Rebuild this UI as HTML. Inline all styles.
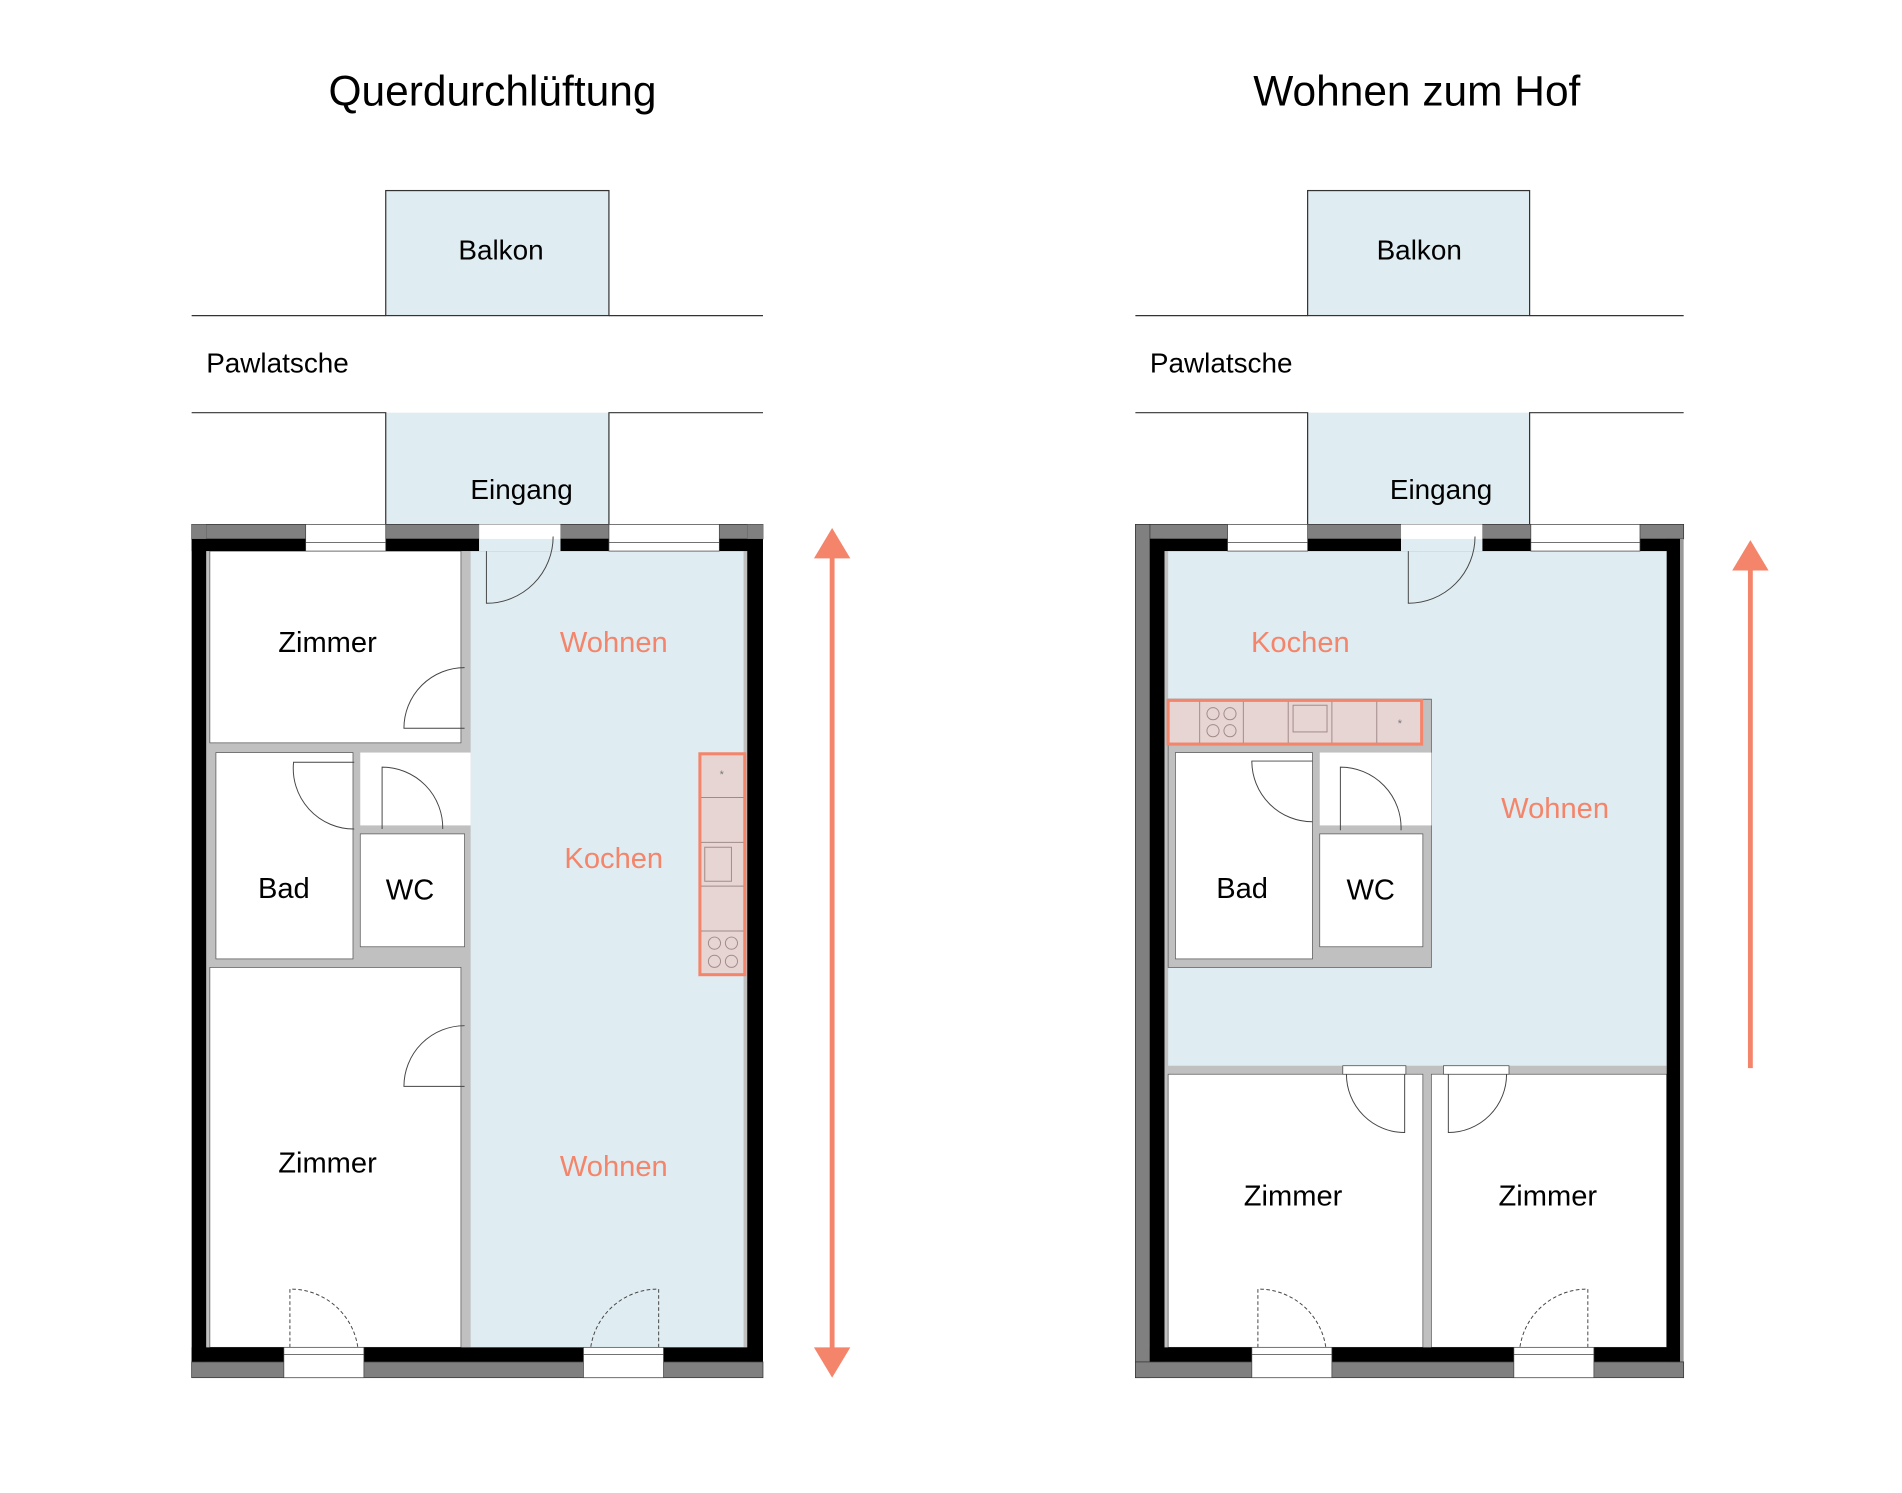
<!DOCTYPE html>
<html><head><meta charset="utf-8"><style>html,body{margin:0;padding:0;background:#fff}svg{display:block}</style></head>
<body>
<svg width="1902" height="1493" viewBox="0 0 1568 1230" preserveAspectRatio="none" xmlns="http://www.w3.org/2000/svg" font-family="Liberation Sans, sans-serif">
<rect width="1568" height="1230" fill="#fff"/>
<text x="406" y="87" font-size="35" text-anchor="middle" fill="#000">Querdurchlüftung</text>
<text x="1168" y="87" font-size="35" text-anchor="middle" fill="#000">Wohnen zum Hof</text>

<g>
<rect x="318" y="157" width="184" height="103" fill="#dfecf1" stroke="#333" stroke-width="1"/>
<rect x="318" y="340" width="184" height="92" fill="#dfecf1"/>
<path d="M158 260H318M502 260H629M158 340H318V432M502 432V340H629" stroke="#333" stroke-width="1" fill="none"/>
<text x="413" y="214" font-size="23" text-anchor="middle">Balkon</text>
<text x="170" y="307" font-size="23">Pawlatsche</text>
<text x="430" y="411" font-size="23" text-anchor="middle">Eingang</text>
<rect x="170" y="454" width="446" height="656" fill="#c0c0c0"/>
<rect x="388" y="454" width="225" height="656" fill="#dfecf1"/>
<rect x="173" y="454" width="207" height="158" fill="#fff" stroke="#555" stroke-width="0.6"/>
<rect x="178" y="620" width="113" height="170" fill="#fff" stroke="#555" stroke-width="0.6"/>
<rect x="297" y="620" width="91" height="60" fill="#fff"/>
<rect x="297" y="687" width="86" height="93" fill="#fff" stroke="#555" stroke-width="0.6"/>
<rect x="173" y="797" width="207" height="313" fill="#fff" stroke="#555" stroke-width="0.6"/>
<rect x="158" y="432" width="471" height="12" fill="#808080" stroke="#333" stroke-width="0.6"/>
<rect x="158" y="444" width="471" height="10" fill="#000"/>
<rect x="158" y="432" width="12" height="703" fill="#000"/>
<rect x="616" y="432" width="13" height="703" fill="#000"/>
<rect x="158" y="1110" width="471" height="12" fill="#000"/>
<rect x="158" y="1122" width="471" height="13" fill="#808080" stroke="#333" stroke-width="0.6"/>
<rect x="158" y="432" width="12" height="12" fill="#808080"/>
<rect x="616" y="432" width="13" height="12" fill="#808080"/>
<rect x="252" y="432" width="66" height="22" fill="#fff" stroke="#444" stroke-width="0.6"/>
<path d="M252 447H318" stroke="#444" stroke-width="0.6"/>
<rect x="502" y="432" width="91" height="22" fill="#fff" stroke="#444" stroke-width="0.6"/>
<path d="M502 447H593" stroke="#444" stroke-width="0.6"/>
<rect x="395" y="432" width="67" height="22" fill="#fff"/>
<rect x="395" y="444" width="67" height="10" fill="#dfecf1"/>
<rect x="234" y="1110" width="66" height="25" fill="#fff" stroke="#444" stroke-width="0.6"/>
<path d="M234 1116H300" stroke="#444" stroke-width="0.6"/>
<rect x="481" y="1110" width="66" height="25" fill="#fff" stroke="#444" stroke-width="0.6"/>
<path d="M481 1116H547" stroke="#444" stroke-width="0.6"/>
<g fill="none" stroke="#444" stroke-width="0.8">
<path d="M401 454V497A55 55 0 0 0 456 442"/>
<path d="M383 600H333A50 50 0 0 1 383 550"/>
<path d="M383 895H333A50 50 0 0 1 383 845"/>
<path d="M292 683A50 50 0 0 1 242 628H292"/>
<path d="M315 683V632A50 50 0 0 1 365 683"/>
<path d="M239 1110V1062A56 56 0 0 1 295 1110" stroke-dasharray="3 2"/>
<path d="M543 1110V1062A56 56 0 0 0 487 1110" stroke-dasharray="3 2"/>
</g>
<rect x="577" y="621" width="37" height="182" fill="#e6d5d3" stroke="#f4846a" stroke-width="2.5"/>
<g stroke="#a08a88" stroke-width="0.8" fill="none">
<path d="M578 657H613M578 694H613M578 730H613M578 767H613"/>
<rect x="581" y="698" width="22" height="28"/>
<circle cx="589" cy="777" r="5"/><circle cx="603" cy="777" r="5"/><circle cx="589" cy="792" r="5"/><circle cx="603" cy="792" r="5"/>
</g>
<text x="595" y="641" font-size="9" text-anchor="middle" fill="#777">*</text>
<text x="270" y="537" font-size="24" text-anchor="middle">Zimmer</text>
<text x="234" y="740" font-size="24" text-anchor="middle">Bad</text>
<text x="338" y="741" font-size="24" text-anchor="middle">WC</text>
<text x="270" y="966" font-size="24" text-anchor="middle">Zimmer</text>
<text x="506" y="537" font-size="24" text-anchor="middle" fill="#f4846a">Wohnen</text>
<text x="506" y="715" font-size="24" text-anchor="middle" fill="#f4846a">Kochen</text>
<text x="506" y="969" font-size="24" text-anchor="middle" fill="#f4846a">Wohnen</text>
<path d="M686 455V1115" stroke="#f4846a" stroke-width="4"/>
<path d="M671 460L686 435L701 460Z M671 1110L686 1135L701 1110Z" fill="#f4846a"/>
</g>

<g>
<rect x="1078" y="157" width="183" height="103" fill="#dfecf1" stroke="#333" stroke-width="1"/>
<rect x="1078" y="340" width="183" height="92" fill="#dfecf1"/>
<path d="M936 260H1078M1261 260H1388M936 340H1078V432M1261 432V340H1388" stroke="#333" stroke-width="1" fill="none"/>
<text x="1170" y="214" font-size="23" text-anchor="middle">Balkon</text>
<text x="948" y="307" font-size="23">Pawlatsche</text>
<text x="1188" y="411" font-size="23" text-anchor="middle">Eingang</text>
<rect x="960" y="454" width="414" height="656" fill="#c0c0c0"/>
<rect x="963" y="454" width="411" height="424" fill="#dfecf1"/>
<rect x="963" y="576" width="217" height="221" fill="#c0c0c0" stroke="#555" stroke-width="0.6"/>
<rect x="969" y="620" width="113" height="170" fill="#fff" stroke="#555" stroke-width="0.6"/>
<rect x="1088" y="620" width="92" height="60" fill="#fff"/>
<rect x="1088" y="687" width="85" height="93" fill="#fff" stroke="#555" stroke-width="0.6"/>
<rect x="963" y="885" width="210" height="225" fill="#fff" stroke="#555" stroke-width="0.6"/>
<rect x="1180" y="885" width="194" height="225" fill="#fff" stroke="#555" stroke-width="0.6"/>
<rect x="936" y="432" width="452" height="12" fill="#808080" stroke="#333" stroke-width="0.6"/>
<rect x="948" y="444" width="437" height="10" fill="#000"/>
<rect x="936" y="432" width="12" height="703" fill="#808080" stroke="#333" stroke-width="0.6"/>
<rect x="948" y="444" width="12" height="678" fill="#000"/>
<rect x="1374" y="444" width="11" height="678" fill="#000"/>
<rect x="1385" y="444" width="3" height="678" fill="#999"/>
<rect x="948" y="1110" width="437" height="12" fill="#000"/>
<rect x="936" y="1122" width="452" height="13" fill="#808080" stroke="#333" stroke-width="0.6"/>
<rect x="1012" y="432" width="66" height="22" fill="#fff" stroke="#444" stroke-width="0.6"/>
<path d="M1012 447H1078" stroke="#444" stroke-width="0.6"/>
<rect x="1262" y="432" width="90" height="22" fill="#fff" stroke="#444" stroke-width="0.6"/>
<path d="M1262 447H1352" stroke="#444" stroke-width="0.6"/>
<rect x="1155" y="432" width="67" height="22" fill="#fff"/>
<rect x="1155" y="444" width="67" height="10" fill="#dfecf1"/>
<rect x="1032" y="1110" width="66" height="25" fill="#fff" stroke="#444" stroke-width="0.6"/>
<path d="M1032 1116H1098" stroke="#444" stroke-width="0.6"/>
<rect x="1248" y="1110" width="66" height="25" fill="#fff" stroke="#444" stroke-width="0.6"/>
<path d="M1248 1116H1314" stroke="#444" stroke-width="0.6"/>
<rect x="1107" y="878" width="52" height="7" fill="#fff" stroke="#444" stroke-width="0.6"/>
<rect x="1190" y="878" width="54" height="7" fill="#fff" stroke="#444" stroke-width="0.6"/>
<g fill="none" stroke="#444" stroke-width="0.8">
<path d="M1161 454V497A55 55 0 0 0 1216 442"/>
<path d="M1082 677A50 50 0 0 1 1032 627H1082"/>
<path d="M1105 684V632A50 50 0 0 1 1155 684"/>
<path d="M1110 885A48 48 0 0 0 1158 933V885"/>
<path d="M1242 885A48 48 0 0 1 1194 933V885"/>
<path d="M1037 1110V1062A56 56 0 0 1 1093 1110" stroke-dasharray="3 2"/>
<path d="M1309 1110V1062A56 56 0 0 0 1253 1110" stroke-dasharray="3 2"/>
</g>
<rect x="963" y="577" width="209" height="36" fill="#e6d5d3" stroke="#f4846a" stroke-width="2.5"/>
<g stroke="#a08a88" stroke-width="0.8" fill="none">
<path d="M989 578V612M1025 578V612M1062 578V612M1098 578V612M1135 578V612"/>
<rect x="1066" y="581" width="28" height="22"/>
<circle cx="1000" cy="588" r="5"/><circle cx="1014" cy="588" r="5"/><circle cx="1000" cy="602" r="5"/><circle cx="1014" cy="602" r="5"/>
</g>
<text x="1154" y="599" font-size="9" text-anchor="middle" fill="#777">*</text>
<text x="1072" y="537" font-size="24" text-anchor="middle" fill="#f4846a">Kochen</text>
<text x="1282" y="674" font-size="24" text-anchor="middle" fill="#f4846a">Wohnen</text>
<text x="1024" y="740" font-size="24" text-anchor="middle">Bad</text>
<text x="1130" y="741" font-size="24" text-anchor="middle">WC</text>
<text x="1066" y="993" font-size="24" text-anchor="middle">Zimmer</text>
<text x="1276" y="993" font-size="24" text-anchor="middle">Zimmer</text>
<path d="M1443 465V880" stroke="#f4846a" stroke-width="4"/>
<path d="M1428 470L1443 445L1458 470Z" fill="#f4846a"/>
</g>
</svg>
</body></html>
